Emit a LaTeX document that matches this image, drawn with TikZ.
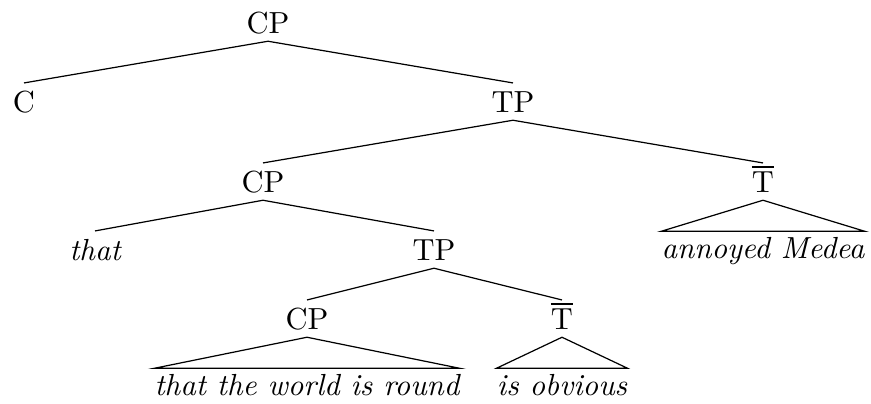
\documentclass[tikz,border=0pt]{standalone}
\begin{document}
\begin{tikzpicture}[x=0.3279pt, y=-0.3279pt,
  cat/.style={anchor=base, inner xsep=0pt, inner ysep=2.5pt, text height=6.83pt, text depth=0pt},
  leaf/.style={anchor=base, inner xsep=0pt, inner ysep=1.6pt, text height=6.94pt, text depth=0pt, font=\itshape},
  branch/.style={line width=0.4pt}]
\useasboundingbox (0,0) rectangle (871,403);
% level 0
\node[cat] (cp0) at (268,33) {CP};
% level 1
\node[cat] (c1) at (24,112) {C};
\node[cat] (tp1) at (513,112) {TP};
% level 2
\node[cat] (cp2) at (263,192) {CP};
\node[cat] (tb2) at (763,192) {$\overline{\mathrm{T}}$};
% level 3
\node[cat, font=\itshape] (that3) at (95,260) {that};
\node[cat] (tp3) at (434,260) {TP};
\node[leaf] (am) at (763,258) {annoyed Medea};
% level 4
\node[cat] (cp4) at (307,329) {CP};
\node[cat] (tb4) at (562,329) {$\overline{\mathrm{T}}$};
% leaves
\node[leaf] (twr) at (307,395) {that the world is round};
\node[leaf] (io) at (562,395) {is obvious};
% branches
\draw[branch] (cp0.south) -- (c1.north);
\draw[branch] (cp0.south) -- (tp1.north);
\draw[branch] (tp1.south) -- (cp2.north);
\draw[branch] (tp1.south) -- (tb2.north);
\draw[branch] (cp2.south) -- (that3.north);
\draw[branch] (cp2.south) -- (tp3.north);
\draw[branch] (tb2.south) -- (am.north west) -- (am.north east) -- cycle;
\draw[branch] (tp3.south) -- (cp4.north);
\draw[branch] (tp3.south) -- (tb4.north);
\draw[branch] (cp4.south) -- (twr.north west) -- (twr.north east) -- cycle;
\draw[branch] (tb4.south) -- (io.north west) -- (io.north east) -- cycle;
\end{tikzpicture}
\end{document}
